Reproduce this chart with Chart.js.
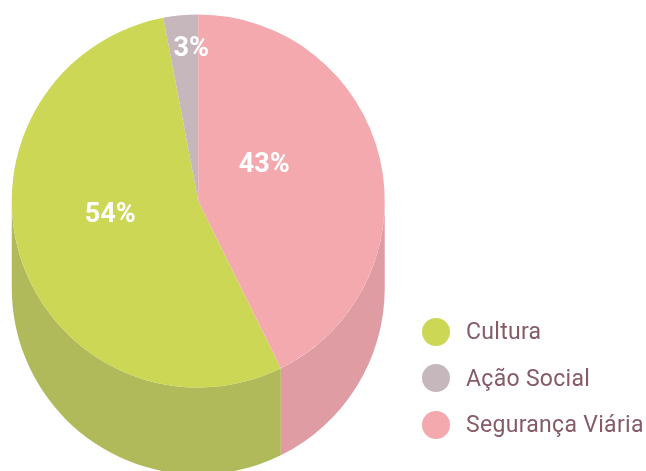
<!DOCTYPE html>
<html>
<head>
<meta charset="utf-8">
<script src="https://cdn.jsdelivr.net/npm/chart.js@4"></script>
<style>
  html, body { margin: 0; padding: 0; background: #fff; overflow: hidden; }
  #wrap { position: relative; width: 646px; height: 471px; }
  canvas { display: block; }
  #legend { position: absolute; left: 422px; top: 308.5px; font-family: Roboto, sans-serif; font-size: 23px; letter-spacing: 0.3px; color: #855b66; }
  .item { height: 46.5px; display: flex; align-items: center; white-space: nowrap; }
  .dot { width: 28px; height: 28px; border-radius: 50%; margin-right: 16px; }
</style>
</head>
<body>
<div id="wrap">
  <canvas id="myChart" width="646" height="471"></canvas>
  <div id="legend"></div>
</div>
<script>
const categories = ['Cultura', 'Ação Social', 'Segurança Viária'];
const values = [54.3, 3, 42.7];
const topColors = ['#ccd755', '#c6b7bc', '#f4a9af'];
const sideColors = ['#b0ba5b', '#ad9fa4', '#df9ca3'];
const labelOffsets = [[-88, 14], [-7, -152], [66, -36]];
const depth = 87;

// lateral da pizza: so a parte da borda que fica na metade de baixo
const extrude = {
    id: 'extrude',
    beforeDatasetsDraw(chart) {
        const ctx = chart.ctx;
        const arcs = chart.getDatasetMeta(0).data;
        ctx.save();
        arcs.forEach((arc, i) => {
            ctx.fillStyle = sideColors[i];
            [0, 2 * Math.PI].forEach(base => {
                const from = Math.max(arc.startAngle, base);
                const to = Math.min(arc.endAngle, base + Math.PI);
                if (from >= to) return;
                ctx.beginPath();
                ctx.arc(arc.x, arc.y, arc.outerRadius, from, to);
                ctx.arc(arc.x, arc.y + depth, arc.outerRadius, to, from, true);
                ctx.closePath();
                ctx.fill();
            });
        });
        ctx.restore();
    }
};

const percentLabels = {
    id: 'percentLabels',
    afterDatasetsDraw(chart) {
        const ctx = chart.ctx;
        const arcs = chart.getDatasetMeta(0).data;
        ctx.save();
        ctx.fillStyle = '#fff';
        ctx.font = '700 27px Roboto, sans-serif';
        ctx.textAlign = 'center';
        ctx.textBaseline = 'middle';
        arcs.forEach((arc, i) => {
            ctx.fillText(Math.round(values[i]) + '%', arc.x + labelOffsets[i][0], arc.y + labelOffsets[i][1]);
        });
        ctx.restore();
    }
};

new Chart(document.getElementById('myChart').getContext('2d'), {
    type: 'pie',
    data: {
        labels: categories,
        datasets: [{
            data: values,
            backgroundColor: topColors,
            borderWidth: 0
        }]
    },
    options: {
        responsive: false,
        animation: false,
        rotation: 153.72,
        layout: { padding: { left: 11.5, top: 14.5, right: 261, bottom: 83.5 } },
        plugins: { legend: { display: false }, tooltip: { enabled: false } }
    },
    plugins: [extrude, percentLabels]
});

const legend = document.getElementById('legend');
categories.forEach((name, i) => {
    const item = document.createElement('div');
    item.className = 'item';
    const dot = document.createElement('span');
    dot.className = 'dot';
    dot.style.background = topColors[i];
    const text = document.createElement('span');
    text.textContent = name;
    item.appendChild(dot);
    item.appendChild(text);
    legend.appendChild(item);
});
</script>
</body>
</html>
